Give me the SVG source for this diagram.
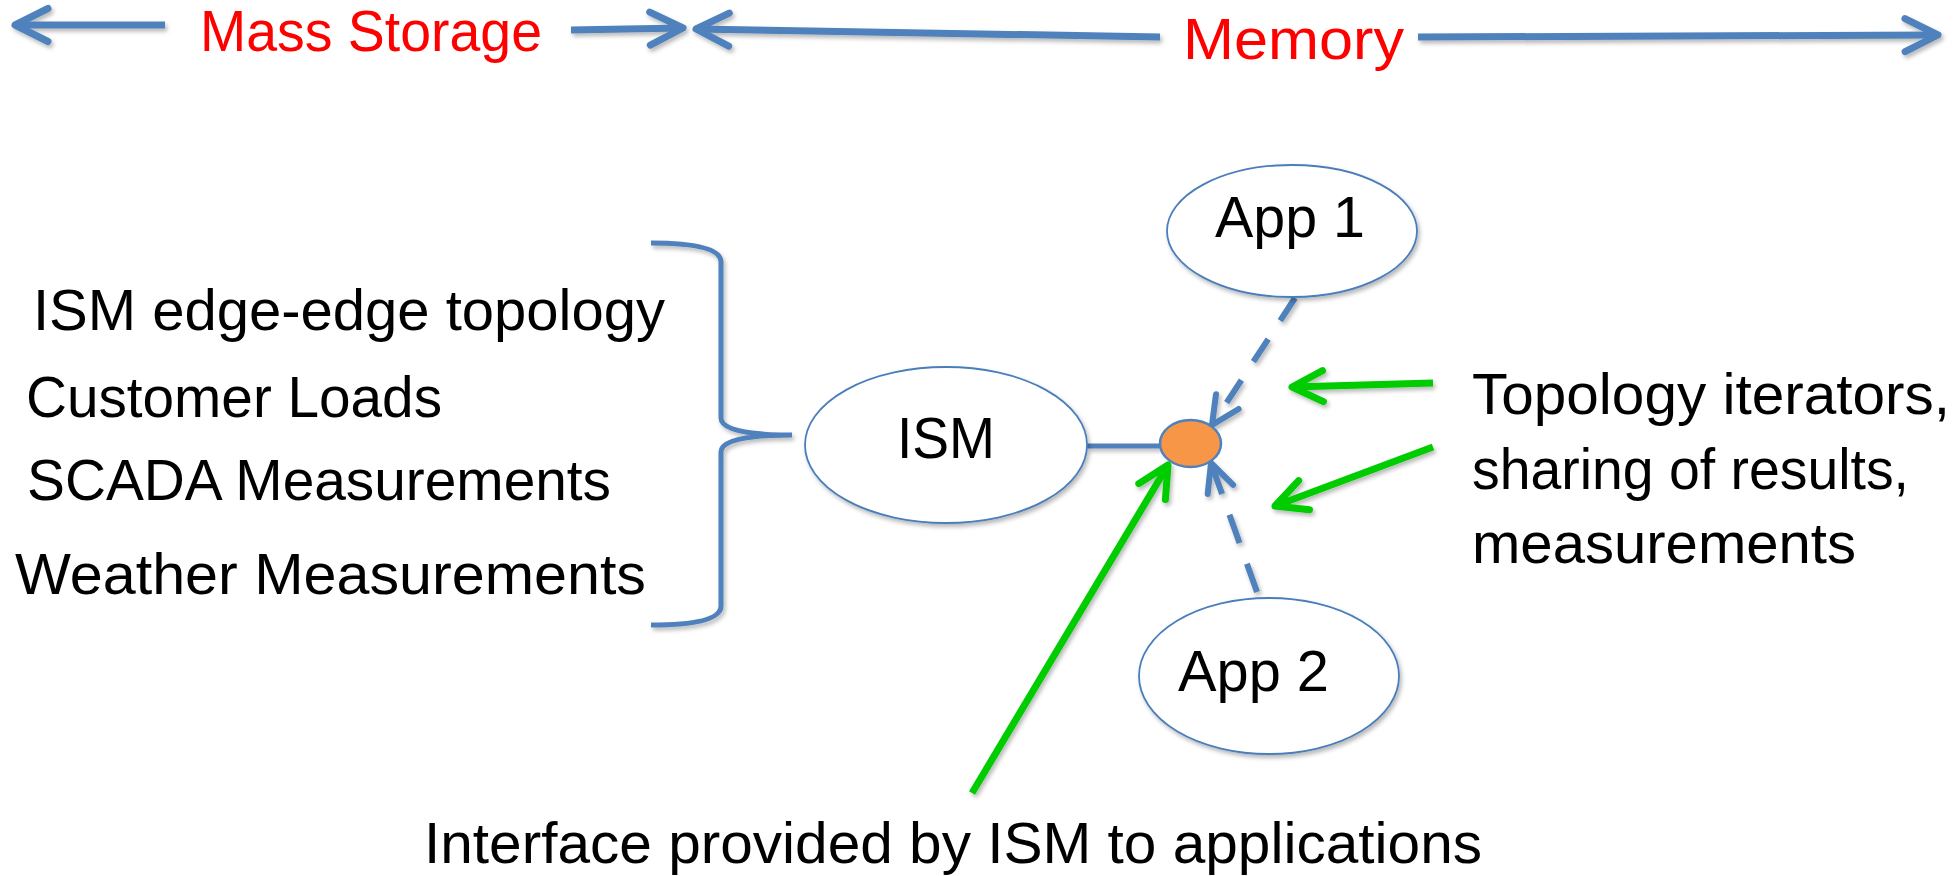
<svg xmlns="http://www.w3.org/2000/svg" width="1957" height="876" viewBox="0 0 1957 876">
<defs>
<style>
.t{font-family:"Liberation Sans",Arial,sans-serif;font-size:57.5px;fill:#000}
.red{fill:#FF0000}
.node{fill:#fff;stroke:#4A7EBB;stroke-width:1.8}
.blue{fill:none;stroke:#4F81BD;stroke-width:7}
.dash{fill:none;stroke:#4F81BD;stroke-width:6}
.green{fill:none;stroke:#00CC00;stroke-width:7}
</style>
<filter id="sh" x="-10%" y="-10%" width="120%" height="130%">
<feDropShadow dx="2" dy="3" stdDeviation="2" flood-color="#000" flood-opacity="0.28"/>
</filter>
<marker id="hb" markerUnits="userSpaceOnUse" markerWidth="60" markerHeight="60" refX="0" refY="0" orient="auto-start-reverse" overflow="visible">
<path d="M -33,-16.5 L 0,0 L -33,16.5" fill="none" stroke="#4F81BD" stroke-width="7" stroke-linecap="round" stroke-linejoin="round"/>
</marker>
<marker id="hd" markerUnits="userSpaceOnUse" markerWidth="60" markerHeight="60" refX="0" refY="0" orient="auto" overflow="visible">
<path d="M -28,-13.5 L 0,0 L -28,13.5" fill="none" stroke="#4F81BD" stroke-width="6" stroke-linecap="round" stroke-linejoin="round"/>
</marker>
<marker id="hg" markerUnits="userSpaceOnUse" markerWidth="60" markerHeight="60" refX="0" refY="0" orient="auto" overflow="visible">
<path d="M -31,-15.5 L 0,0 L -31,15.5" fill="none" stroke="#00CC00" stroke-width="7" stroke-linecap="round" stroke-linejoin="round"/>
</marker>
</defs>
<rect width="1957" height="876" fill="#fff"/>

<g id="connectors" filter="url(#sh)">
<line class="blue" x1="165" y1="25" x2="15" y2="25" marker-end="url(#hb)"/>
<line class="blue" x1="571" y1="30" x2="683" y2="28" marker-end="url(#hb)"/>
<line class="blue" x1="1160" y1="37" x2="696" y2="29" marker-end="url(#hb)"/>
<line class="blue" x1="1418" y1="37" x2="1938" y2="35" marker-end="url(#hb)"/>
<path id="bracket" d="M 651,243 Q 721,243 721,262 L 721,418 Q 721,435 792,435 Q 721,435 721,452 L 721,606 Q 721,625 651,625" fill="none" stroke="#4F81BD" stroke-width="5"/>
<line x1="1087" y1="446" x2="1162" y2="446" stroke="#4F81BD" stroke-width="5"/>
<line class="dash" x1="1295" y1="298" x2="1212" y2="425" stroke-dasharray="27 22" marker-end="url(#hd)"/>
<line class="dash" x1="1257" y1="592" x2="1211" y2="463" stroke-dasharray="30 22" marker-end="url(#hd)"/>
<line class="green" x1="1433" y1="383" x2="1292" y2="387" marker-end="url(#hg)"/>
<line class="green" x1="1433" y1="447" x2="1275" y2="506" marker-end="url(#hg)"/>
<line class="green" x1="972" y1="793" x2="1168" y2="465" marker-end="url(#hg)"/>
</g>

<g id="label-mass-storage"><text class="t red" x="200" y="51" textLength="342" lengthAdjust="spacingAndGlyphs">Mass Storage</text></g>
<g id="label-memory"><text class="t red" x="1183" y="59" textLength="221" lengthAdjust="spacingAndGlyphs">Memory</text></g>

<g id="data-list">
<text class="t" x="33" y="330" textLength="632" lengthAdjust="spacingAndGlyphs">ISM edge-edge topology</text>
<text class="t" x="26" y="417" textLength="416" lengthAdjust="spacingAndGlyphs">Customer Loads</text>
<text class="t" x="27" y="500" textLength="584" lengthAdjust="spacingAndGlyphs">SCADA Measurements</text>
<text class="t" x="15" y="594" textLength="631" lengthAdjust="spacingAndGlyphs">Weather Measurements</text>
</g>

<g id="node-ism">
<ellipse class="node" cx="946" cy="445" rx="141" ry="78" filter="url(#sh)"/>
<text class="t" x="897" y="458" textLength="98" lengthAdjust="spacingAndGlyphs">ISM</text>
</g>

<g id="node-app1">
<ellipse class="node" cx="1292" cy="231" rx="125" ry="66" filter="url(#sh)"/>
<text class="t" x="1215" y="237" textLength="150" lengthAdjust="spacingAndGlyphs">App 1</text>
</g>

<g id="node-app2">
<ellipse class="node" cx="1269" cy="676" rx="130" ry="78" filter="url(#sh)"/>
<text class="t" x="1178" y="691" textLength="151" lengthAdjust="spacingAndGlyphs">App 2</text>
</g>

<g id="node-interface">
<ellipse cx="1190.5" cy="443.5" rx="30.5" ry="23.5" fill="#F79646" stroke="#4F81BD" stroke-width="2.5"/>
</g>

<g id="label-services">
<text class="t" x="1472" y="414" textLength="478" lengthAdjust="spacingAndGlyphs">Topology iterators,</text>
<text class="t" x="1472" y="489" textLength="437" lengthAdjust="spacingAndGlyphs">sharing of results,</text>
<text class="t" x="1472" y="563" textLength="384" lengthAdjust="spacingAndGlyphs">measurements</text>
</g>

<g id="label-interface">
<text class="t" x="424" y="863" textLength="1058" lengthAdjust="spacingAndGlyphs">Interface provided by ISM to applications</text>
</g>
</svg>
